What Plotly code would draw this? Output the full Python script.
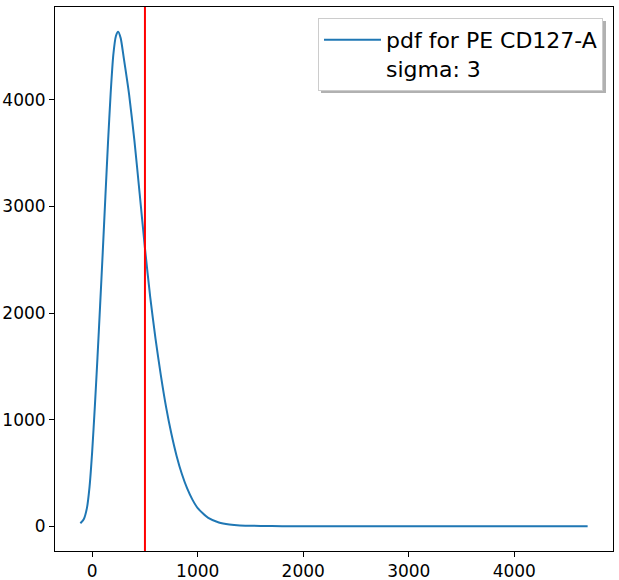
import plotly.graph_objects as go

# Data
x_vals = [-112, -80, -50, -25, 0, 25, 50, 75, 100, 125, 150, 175, 200, 225, 246,
          270, 300, 350, 400, 450, 500, 550, 600, 650, 700, 750, 800, 850, 900,
          950, 1000, 1100, 1200, 1300, 1400, 1600, 1800, 2200, 3000, 4000, 4695]
pdf_vals = [28, 65, 170, 370, 700, 1120, 1580, 2070, 2570, 3090, 3600, 4060, 4420,
            4600, 4640, 4580, 4390, 4050, 3620, 3120, 2610, 2150, 1760, 1420, 1120,
            870, 660, 490, 355, 250, 170, 78, 36, 17, 8, 3, 1, 0, 0, 0, 0]
threshold = 500
series_name = "pdf for PE CD127-A<br>sigma: 3"
x_ticks = [0, 1000, 2000, 3000, 4000]
y_ticks = [0, 1000, 2000, 3000, 4000]

W, H = 619, 580
ml, mr, mt, mb = 55, 6, 7, 29

fig = go.Figure()
fig.add_trace(go.Scatter(x=x_vals, y=pdf_vals, mode="lines", name=series_name,
                         line=dict(color="#1f77b4", width=2, shape="spline", smoothing=0.6)))
fig.add_vline(x=threshold, line=dict(color="#ff0000", width=2), layer="above")

xmin, xmax = min(x_vals), max(x_vals)
ymin, ymax = min(pdf_vals), max(pdf_vals)
xpad = 0.05 * (xmax - xmin)
ypad = 0.05 * (ymax - ymin)

pw = W - ml - mr
ph = H - mt - mb
lx0, lx1, ly0, ly1 = 318, 603, 18, 90
def px_to_paper_x(p): return (p - ml) / pw
def px_to_paper_y(p): return (H - mb - p) / ph

# legend drop shadow (legend box is drawn on top of it)
fig.add_shape(type="rect", xref="paper", yref="paper",
              x0=px_to_paper_x(lx0 + 3), x1=px_to_paper_x(lx1 + 3),
              y0=px_to_paper_y(ly1 + 3), y1=px_to_paper_y(ly0 + 3),
              line=dict(width=0), fillcolor="rgba(100,100,100,0.5)", layer="above")

axis_common = dict(showgrid=False, zeroline=False, showline=True, linecolor="black",
                   linewidth=1, mirror=True, ticks="outside", ticklen=5,
                   tickcolor="black", automargin=False,
                   tickfont=dict(size=17, color="black", family="DejaVu Sans"))
fig.update_xaxes(range=[xmin - xpad, xmax + xpad], tickvals=x_ticks, **axis_common)
fig.update_yaxes(range=[ymin - ypad, ymax + ypad], tickvals=y_ticks, **axis_common)

fig.update_layout(
    width=W, height=H,
    margin=dict(l=ml, r=mr, t=mt, b=mb, autoexpand=False),
    plot_bgcolor="white", paper_bgcolor="white",
    font=dict(family="DejaVu Sans", color="black"),
    showlegend=True,
    legend=dict(x=px_to_paper_x(lx1), y=px_to_paper_y(ly0), xanchor="right", yanchor="top",
                bgcolor="white", bordercolor="#cccccc", borderwidth=1,
                font=dict(size=22, color="black"), valign="top",
                itemwidth=57),
)
fig.write_html("out.html")
